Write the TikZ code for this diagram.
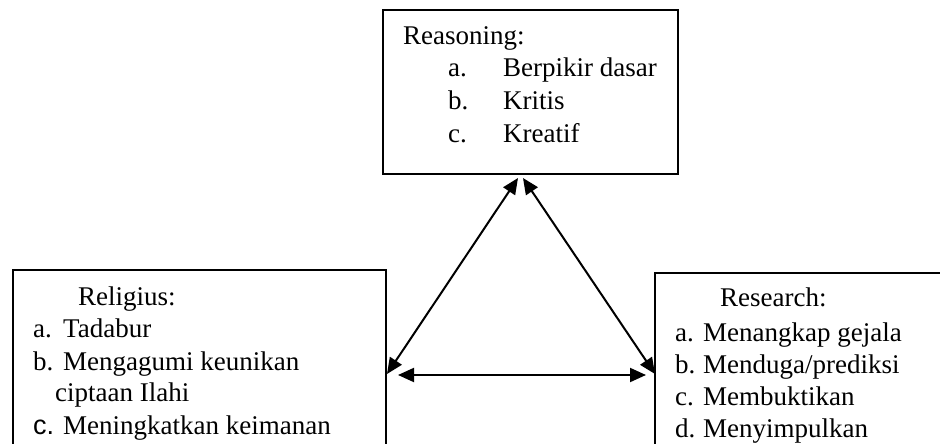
\documentclass[tikz,border=0pt]{standalone}
\usepackage{fontspec}
\setmainfont{Liberation Serif}
\newfontfamily\armfont{Liberation Sans}
\usetikzlibrary{arrows.meta}
\begin{document}
\begin{tikzpicture}[x=1pt,y=-1pt,
  boxstyle/.style={draw,line width=2pt,rectangle},
  txt/.style={anchor=base west,inner sep=0pt,font=\fontsize{27}{32}\selectfont},
  conn/.style={line width=2pt,{Triangle[length=16pt,width=14pt]}-{Triangle[length=16pt,width=14pt]}}]
\useasboundingbox (0,0) rectangle (940,444);
\clip (0,0) rectangle (940,444);
% boxes
\draw[boxstyle] (383,10) rectangle (678,174);
\draw[boxstyle] (13,270) rectangle (386,470);
\draw[boxstyle] (655,273) rectangle (970,470);
% top text
\node[txt] (rt) at (403,45) {Reasoning:};
\node[txt] (ra) at (448,77) {a.};
\node[txt] (rat) at (503,77) {Berpikir dasar};
\node[txt] (rb) at (448,110) {b.};
\node[txt] (rbt) at (503,110) {Kritis};
\node[txt] (rc) at (448,142) {c.};
\node[txt] (rct) at (503,142) {Kreatif};
% left text
\node[txt] (lt) at (78,305) {Religius:};
\node[txt] (la) at (33,337) {a.};
\node[txt] (lat) at (63,337) {Tadabur};
\node[txt] (lb) at (33,370) {b.};
\node[txt] (lbt) at (63,370) {Mengagumi keunikan};
\node[txt] (lb2) at (55,401) {ciptaan Ilahi};
\node[txt] (lc) at (33,434) {\armfont c.};
\node[txt] (lct) at (63,434) {Meningkatkan keimanan};
% right text
\node[txt] (st) at (720,306) {Research:};
\node[txt] (sa) at (675,341) {a.};
\node[txt] (sat) at (703,341) {Menangkap gejala};
\node[txt] (sb) at (675,373) {b.};
\node[txt] (sbt) at (703,373) {Menduga/prediksi};
\node[txt] (sc) at (675,405) {c.};
\node[txt] (sct) at (703,405) {Membuktikan};
\node[txt] (sd) at (675,437) {d.};
\node[txt] (sdt) at (703,437) {Menyimpulkan};
% connector ends
\coordinate (apexL) at (518,178);
\coordinate (apexR) at (523,178);
\coordinate (leftE) at (387,374);
\coordinate (rightE) at (655,374);
\coordinate (hL) at (398,375);
\coordinate (hR) at (646,375);
\draw[conn] (apexL) -- (leftE);
\draw[conn] (apexR) -- (rightE);
\draw[conn] (hL) -- (hR);
\end{tikzpicture}
\end{document}
